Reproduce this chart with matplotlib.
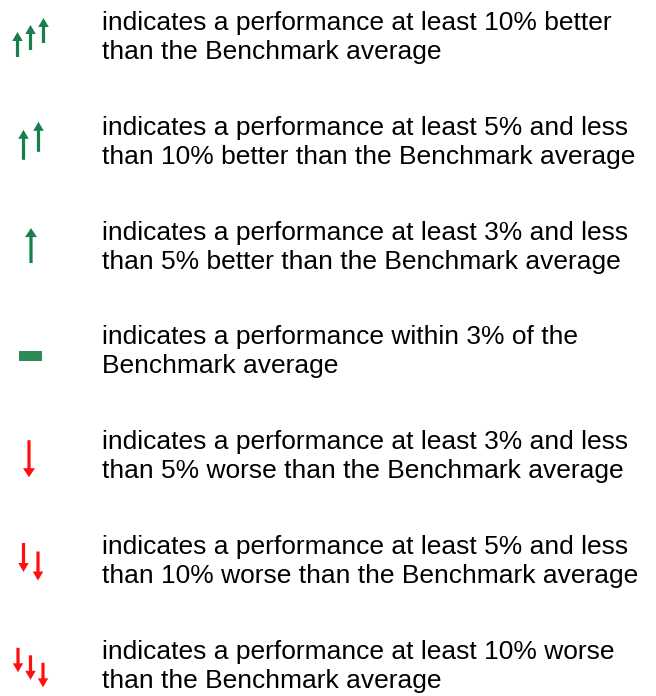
import matplotlib
matplotlib.use("Agg")
import matplotlib.pyplot as plt

# legend rows: (direction, number of arrows, first line, second line)
directions = ["up", "up", "up", "flat", "down", "down", "down"]
counts = [3, 2, 1, 0, 1, 2, 3]
line1 = [
    "indicates a performance at least 10% better",
    "indicates a performance at least 5% and less",
    "indicates a performance at least 3% and less",
    "indicates a performance within 3% of the",
    "indicates a performance at least 3% and less",
    "indicates a performance at least 5% and less",
    "indicates a performance at least 10% worse",
]
line2 = [
    "than the Benchmark average",
    "than 10% better than the Benchmark average",
    "than 5% better than the Benchmark average",
    "Benchmark average",
    "than 5% worse than the Benchmark average",
    "than 10% worse than the Benchmark average",
    "than the Benchmark average",
]

GREEN = "#17804a"
RED = "#ff1010"

# icon geometry per arrow count: (first x, x step, arrow length, start offset, stagger)
ICON = {
    ("up", 3): (17.5, 13, 25, 21, -7),
    ("up", 2): (23.5, 15, 30, 19, -8),
    ("up", 1): (31, 0, 35, 17.5, 0),
    ("down", 1): (29, 0, 37, -15, 0),
    ("down", 2): (23.5, 14.5, 29, -17, 8.5),
    ("down", 3): (18, 12.5, 24.5, -17, 7.5),
}


def draw_icon(ax, kind, n, cy):
    if kind == "flat":
        ax.add_patch(plt.Rectangle((19, cy + 1), 23, 10, color="#2e8b57", lw=0))
        return
    color = GREEN if kind == "up" else RED
    x0, dx, length, off, stagger = ICON[(kind, n)]
    head_w = 12 if n == 1 else 10.5
    sign = -1 if kind == "up" else 1
    for i in range(n):
        x = x0 + i * dx
        start = cy + off + i * stagger
        ax.arrow(x, start, 0, sign * length, width=3.2, head_width=head_w,
                 head_length=9, length_includes_head=True, color=color, lw=0)


def main():
    fig = plt.figure(figsize=(6.56, 6.96), dpi=100)
    ax = fig.add_axes([0, 0, 1, 1])
    ax.set_xlim(0, 656)
    ax.set_ylim(696, 0)
    ax.axis("off")

    for i in range(len(line1)):
        cy = 36 + i * 104.8
        ax.text(102, cy - 13, line1[i], fontsize=19, family="Liberation Sans",
                va="center", ha="left", color="black")
        ax.text(102, cy + 16, line2[i], fontsize=19, family="Liberation Sans",
                va="center", ha="left", color="black")
        draw_icon(ax, directions[i], counts[i], cy)

    fig.savefig("out.png", dpi=100)


if __name__ == "__main__":
    main()
